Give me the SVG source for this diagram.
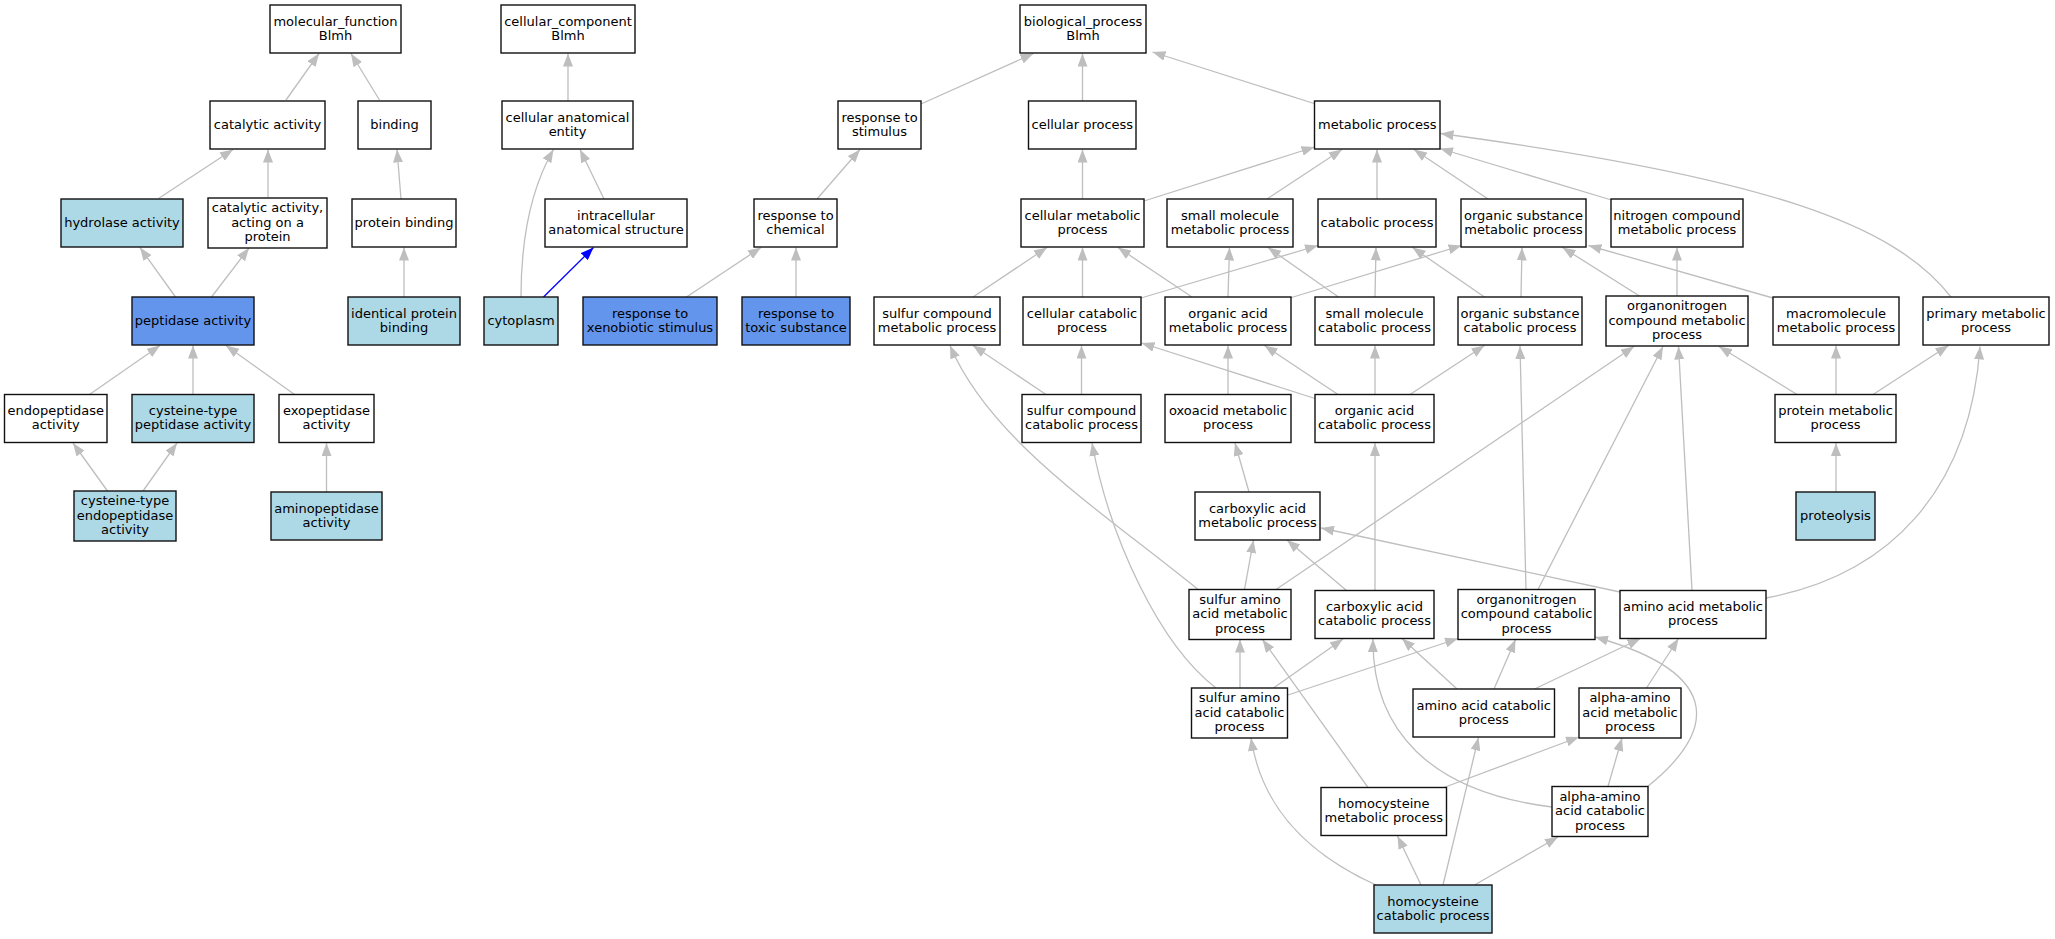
<svg xmlns="http://www.w3.org/2000/svg" width="2055" height="939" viewBox="0 0 2055 939">
<style>
.n rect{fill:#fff;stroke:#111;stroke-width:1.4}
.n.lb rect{fill:#add8e6}
.n.cb rect{fill:#6495ed}
.n text{font-family:"DejaVu Sans","Liberation Sans",sans-serif;font-size:13px;text-anchor:middle;fill:#000}
.e{fill:none;stroke:#bebebe;stroke-width:1.3;marker-end:url(#a)}
.eb{fill:none;stroke:#0000ff;stroke-width:1.3;marker-end:url(#ab)}
</style>
<defs>
<marker id="a" viewBox="0 0 13 10" refX="13" refY="5" markerWidth="13" markerHeight="10" markerUnits="userSpaceOnUse" orient="auto"><path d="M0,0L13,5L0,10z" fill="#bebebe"/></marker>
<marker id="ab" viewBox="0 0 13 10" refX="13" refY="5" markerWidth="13" markerHeight="10" markerUnits="userSpaceOnUse" orient="auto"><path d="M0,0L13,5L0,10z" fill="#0000ff"/></marker>
</defs>
<rect width="2055" height="939" fill="#fff"/>
<g id="edges">
<path class="e" d="M286,100L319,53.5"/>
<path class="e" d="M379.5,100L351,53.5"/>
<path class="e" d="M158.5,198.5L233,149.5"/>
<path class="e" d="M268,197L268,149.5"/>
<path class="e" d="M401,199L397,149.5"/>
<path class="e" d="M604,199L580,149.5"/>
<path class="e" d="M521,297C521,240 530,190 553.5,149.5"/>
<path class="eb" d="M543.5,297L593.5,247.5"/>
<path class="e" d="M568,101L568,53.5"/>
<path class="e" d="M175.5,297L140,247.5"/>
<path class="e" d="M211.5,297L249,248"/>
<path class="e" d="M404,297L404,247.5"/>
<path class="e" d="M89.5,394.5L160,345.5"/>
<path class="e" d="M193,394.5L193,345.5"/>
<path class="e" d="M294.5,394.5L226,345.5"/>
<path class="e" d="M107.5,491L73,443"/>
<path class="e" d="M143,491L177,443"/>
<path class="e" d="M326.5,492L326.5,443"/>
<path class="e" d="M921,104L1033.5,53.5"/>
<path class="e" d="M1082.5,101L1082.5,53.5"/>
<path class="e" d="M1314,103.5L1152.5,52"/>
<path class="e" d="M817,199L860,149.5"/>
<path class="e" d="M1082.5,199L1082.5,149.5"/>
<path class="e" d="M1144,201L1314.5,147"/>
<path class="e" d="M686.5,297L761,247.5"/>
<path class="e" d="M796,297L796,247.5"/>
<path class="e" d="M973,297L1047,247.5"/>
<path class="e" d="M1082.5,297L1082.5,247.5"/>
<path class="e" d="M1192,297L1118,247.5"/>
<path class="e" d="M1141,298L1318,245.5"/>
<path class="e" d="M1290,298L1461.5,245.5"/>
<path class="e" d="M1228,297L1229.5,247.5"/>
<path class="e" d="M1338.5,297L1268,247.5"/>
<path class="e" d="M1375,297L1376,247.5"/>
<path class="e" d="M1484.5,297L1412.5,247.5"/>
<path class="e" d="M1521,297L1522,247.5"/>
<path class="e" d="M1639.5,296L1562.5,247.5"/>
<path class="e" d="M1677,296L1677,247.5"/>
<path class="e" d="M1773,298L1588.5,245.5"/>
<path class="e" d="M1267,199L1342,149.5"/>
<path class="e" d="M1377,199L1377,149.5"/>
<path class="e" d="M1488,199L1414,149.5"/>
<path class="e" d="M1611.5,200L1440,148.5"/>
<path class="e" d="M1951,297C1895,225 1770,178 1440.5,133.5"/>
<path class="e" d="M1046,394.5L973,345.5"/>
<path class="e" d="M1081.5,394.5L1081.5,345.5"/>
<path class="e" d="M1315,398.5L1141.5,343"/>
<path class="e" d="M1228,394.5L1228,345.5"/>
<path class="e" d="M1338,394.5L1264.5,345.5"/>
<path class="e" d="M1375,394.5L1375,345.5"/>
<path class="e" d="M1410,394.5L1484.5,345.5"/>
<path class="e" d="M1249,492L1235,443"/>
<path class="e" d="M1198,589.5C1100,510 990,440 950,345.5"/>
<path class="e" d="M1244.5,589.5L1253.5,540"/>
<path class="e" d="M1276,589.5L1634,346.5"/>
<path class="e" d="M1216,688C1160,645 1110,540 1092,443"/>
<path class="e" d="M1346.5,590.5L1287,540"/>
<path class="e" d="M1375,590.5L1375,443"/>
<path class="e" d="M1620,592L1321,528"/>
<path class="e" d="M1526,589.5L1520,346"/>
<path class="e" d="M1538,589.5L1663,346.5"/>
<path class="e" d="M1692,590.5L1678.5,346.5"/>
<path class="e" d="M1766,598C1890,575 1970,490 1980,346.5"/>
<path class="e" d="M1797,394.5L1719,346.5"/>
<path class="e" d="M1836,394.5L1836,345.5"/>
<path class="e" d="M1873,394.5L1948.5,345.5"/>
<path class="e" d="M1836,492L1836,443"/>
<path class="e" d="M1240,688L1240,639.5"/>
<path class="e" d="M1273.5,688L1343,639"/>
<path class="e" d="M1288,695L1458,638.5"/>
<path class="e" d="M1368,787.5L1262.5,639.5"/>
<path class="e" d="M1552,807C1430,792 1372,730 1373,639"/>
<path class="e" d="M1457,689L1402,638.5"/>
<path class="e" d="M1494,689L1515.5,639.5"/>
<path class="e" d="M1534.5,689L1640.5,638.5"/>
<path class="e" d="M1646.5,688L1678.5,638.5"/>
<path class="e" d="M1647,787C1712,735 1730,675 1595,637"/>
<path class="e" d="M1608,786.5L1622,738"/>
<path class="e" d="M1444,787.5L1579,737"/>
<path class="e" d="M1421,885L1397.5,836"/>
<path class="e" d="M1443,885L1478.5,737.5"/>
<path class="e" d="M1474.5,885L1558,837"/>
<path class="e" d="M1376,885C1310,855 1262,810 1251,738"/>
</g>
<g id="mf" class="n"><rect x="270" y="5" width="131" height="48"/><text x="335.5" y="25.5">molecular_function</text><text x="335.5" y="39.9">Blmh</text></g>
<g id="cc" class="n"><rect x="501" y="5" width="134" height="48"/><text x="568" y="25.5">cellular_component</text><text x="568" y="39.9">Blmh</text></g>
<g id="bp" class="n"><rect x="1020" y="5" width="126" height="48"/><text x="1083" y="25.5">biological_process</text><text x="1083" y="39.9">Blmh</text></g>
<g id="catalytic" class="n"><rect x="210" y="101" width="115" height="48"/><text x="267.5" y="128.7">catalytic activity</text></g>
<g id="binding" class="n"><rect x="358" y="101" width="73" height="48"/><text x="394.5" y="128.7">binding</text></g>
<g id="cae" class="n"><rect x="502" y="101" width="131" height="48"/><text x="567.5" y="121.5">cellular anatomical</text><text x="567.5" y="135.9">entity</text></g>
<g id="rstim" class="n"><rect x="838" y="101" width="83" height="48"/><text x="879.5" y="121.5">response to</text><text x="879.5" y="135.9">stimulus</text></g>
<g id="cellproc" class="n"><rect x="1028.5" y="101" width="107.5" height="48"/><text x="1082.3" y="128.7">cellular process</text></g>
<g id="metab" class="n"><rect x="1314.5" y="101" width="125.5" height="48"/><text x="1377.3" y="128.7">metabolic process</text></g>
<g id="hydrolase" class="n lb"><rect x="61" y="199" width="122" height="48"/><text x="122" y="226.7">hydrolase activity</text></g>
<g id="catprot" class="n"><rect x="208" y="198" width="119" height="50"/><text x="267.5" y="212.3">catalytic activity,</text><text x="267.5" y="226.7">acting on a</text><text x="267.5" y="241.1">protein</text></g>
<g id="protbind" class="n"><rect x="352" y="199" width="104" height="48"/><text x="404" y="226.7">protein binding</text></g>
<g id="ias" class="n"><rect x="545" y="199" width="142" height="48"/><text x="616" y="219.5">intracellular</text><text x="616" y="233.9">anatomical structure</text></g>
<g id="rchem" class="n"><rect x="754" y="199" width="83" height="48"/><text x="795.5" y="219.5">response to</text><text x="795.5" y="233.9">chemical</text></g>
<g id="cmp" class="n"><rect x="1021" y="199" width="123" height="48"/><text x="1082.5" y="219.5">cellular metabolic</text><text x="1082.5" y="233.9">process</text></g>
<g id="smmp" class="n"><rect x="1167" y="199" width="126" height="48"/><text x="1230" y="219.5">small molecule</text><text x="1230" y="233.9">metabolic process</text></g>
<g id="catab" class="n"><rect x="1318" y="199" width="118" height="48"/><text x="1377" y="226.7">catabolic process</text></g>
<g id="osmp" class="n"><rect x="1461" y="199" width="125" height="48"/><text x="1523.5" y="219.5">organic substance</text><text x="1523.5" y="233.9">metabolic process</text></g>
<g id="ncmp" class="n"><rect x="1611" y="199" width="132" height="48"/><text x="1677" y="219.5">nitrogen compound</text><text x="1677" y="233.9">metabolic process</text></g>
<g id="peptidase" class="n cb"><rect x="132" y="297" width="122" height="48"/><text x="193" y="324.7">peptidase activity</text></g>
<g id="ipb" class="n lb"><rect x="348" y="297" width="112" height="48"/><text x="404" y="317.5">identical protein</text><text x="404" y="331.9">binding</text></g>
<g id="cytoplasm" class="n lb"><rect x="484" y="297" width="74" height="48"/><text x="521" y="324.7">cytoplasm</text></g>
<g id="rxeno" class="n cb"><rect x="583" y="297" width="134" height="48"/><text x="650" y="317.5">response to</text><text x="650" y="331.9">xenobiotic stimulus</text></g>
<g id="rtox" class="n cb"><rect x="742" y="297" width="108" height="48"/><text x="796" y="317.5">response to</text><text x="796" y="331.9">toxic substance</text></g>
<g id="scmp" class="n"><rect x="874" y="297" width="126" height="48"/><text x="937" y="317.5">sulfur compound</text><text x="937" y="331.9">metabolic process</text></g>
<g id="ccp" class="n"><rect x="1023" y="297" width="118" height="48"/><text x="1082" y="317.5">cellular catabolic</text><text x="1082" y="331.9">process</text></g>
<g id="oamp" class="n"><rect x="1165" y="297" width="126" height="48"/><text x="1228" y="317.5">organic acid</text><text x="1228" y="331.9">metabolic process</text></g>
<g id="smcp" class="n"><rect x="1315" y="297" width="119" height="48"/><text x="1374.5" y="317.5">small molecule</text><text x="1374.5" y="331.9">catabolic process</text></g>
<g id="oscp" class="n"><rect x="1458" y="297" width="124" height="48"/><text x="1520" y="317.5">organic substance</text><text x="1520" y="331.9">catabolic process</text></g>
<g id="oncmp" class="n"><rect x="1606" y="296" width="142" height="50"/><text x="1677" y="310.3">organonitrogen</text><text x="1677" y="324.7">compound metabolic</text><text x="1677" y="339.1">process</text></g>
<g id="mmp" class="n"><rect x="1773" y="297" width="126" height="48"/><text x="1836" y="317.5">macromolecule</text><text x="1836" y="331.9">metabolic process</text></g>
<g id="pmp" class="n"><rect x="1923" y="297" width="126" height="48"/><text x="1986" y="317.5">primary metabolic</text><text x="1986" y="331.9">process</text></g>
<g id="endo" class="n"><rect x="4.5" y="394.5" width="102.5" height="48"/><text x="55.8" y="415">endopeptidase</text><text x="55.8" y="429.4">activity</text></g>
<g id="cyspep" class="n lb"><rect x="132" y="394.5" width="122" height="48"/><text x="193" y="415">cysteine-type</text><text x="193" y="429.4">peptidase activity</text></g>
<g id="exo" class="n"><rect x="279" y="394.5" width="95" height="48"/><text x="326.5" y="415">exopeptidase</text><text x="326.5" y="429.4">activity</text></g>
<g id="sccp" class="n"><rect x="1022" y="394.5" width="119" height="48"/><text x="1081.5" y="415">sulfur compound</text><text x="1081.5" y="429.4">catabolic process</text></g>
<g id="oxo" class="n"><rect x="1165" y="394.5" width="126" height="48"/><text x="1228" y="415">oxoacid metabolic</text><text x="1228" y="429.4">process</text></g>
<g id="oacp" class="n"><rect x="1315" y="394.5" width="119" height="48"/><text x="1374.5" y="415">organic acid</text><text x="1374.5" y="429.4">catabolic process</text></g>
<g id="protmp" class="n"><rect x="1775" y="394.5" width="121" height="48"/><text x="1835.5" y="415">protein metabolic</text><text x="1835.5" y="429.4">process</text></g>
<g id="cysendo" class="n lb"><rect x="74" y="491" width="102" height="50"/><text x="125" y="505.3">cysteine-type</text><text x="125" y="519.7">endopeptidase</text><text x="125" y="534.1">activity</text></g>
<g id="aminopep" class="n lb"><rect x="271" y="492" width="111" height="48"/><text x="326.5" y="512.5">aminopeptidase</text><text x="326.5" y="526.9">activity</text></g>
<g id="carbmp" class="n"><rect x="1195" y="492" width="125" height="48"/><text x="1257.5" y="512.5">carboxylic acid</text><text x="1257.5" y="526.9">metabolic process</text></g>
<g id="proteolysis" class="n lb"><rect x="1796" y="492" width="79" height="48"/><text x="1835.5" y="519.7">proteolysis</text></g>
<g id="samp" class="n"><rect x="1189" y="589.5" width="102" height="50"/><text x="1240" y="603.8">sulfur amino</text><text x="1240" y="618.2">acid metabolic</text><text x="1240" y="632.6">process</text></g>
<g id="carbcp" class="n"><rect x="1315" y="590.5" width="119" height="48"/><text x="1374.5" y="611">carboxylic acid</text><text x="1374.5" y="625.4">catabolic process</text></g>
<g id="onccp" class="n"><rect x="1458" y="589.5" width="137" height="50"/><text x="1526.5" y="603.8">organonitrogen</text><text x="1526.5" y="618.2">compound catabolic</text><text x="1526.5" y="632.6">process</text></g>
<g id="aamp" class="n"><rect x="1620" y="590.5" width="146" height="48"/><text x="1693" y="611">amino acid metabolic</text><text x="1693" y="625.4">process</text></g>
<g id="sacp" class="n"><rect x="1191.5" y="688" width="96" height="50"/><text x="1239.5" y="702.3">sulfur amino</text><text x="1239.5" y="716.7">acid catabolic</text><text x="1239.5" y="731.1">process</text></g>
<g id="aacp" class="n"><rect x="1413" y="689" width="141.5" height="48"/><text x="1483.8" y="709.5">amino acid catabolic</text><text x="1483.8" y="723.9">process</text></g>
<g id="alphamp" class="n"><rect x="1579" y="688" width="102" height="50"/><text x="1630" y="702.3">alpha-amino</text><text x="1630" y="716.7">acid metabolic</text><text x="1630" y="731.1">process</text></g>
<g id="hcmp" class="n"><rect x="1321" y="787.5" width="125.5" height="48"/><text x="1383.8" y="808">homocysteine</text><text x="1383.8" y="822.4">metabolic process</text></g>
<g id="alphacp" class="n"><rect x="1552" y="786.5" width="96" height="50"/><text x="1600" y="800.8">alpha-amino</text><text x="1600" y="815.2">acid catabolic</text><text x="1600" y="829.6">process</text></g>
<g id="hccp" class="n lb"><rect x="1374" y="885" width="118" height="48"/><text x="1433" y="905.5">homocysteine</text><text x="1433" y="919.9">catabolic process</text></g>
</svg>
